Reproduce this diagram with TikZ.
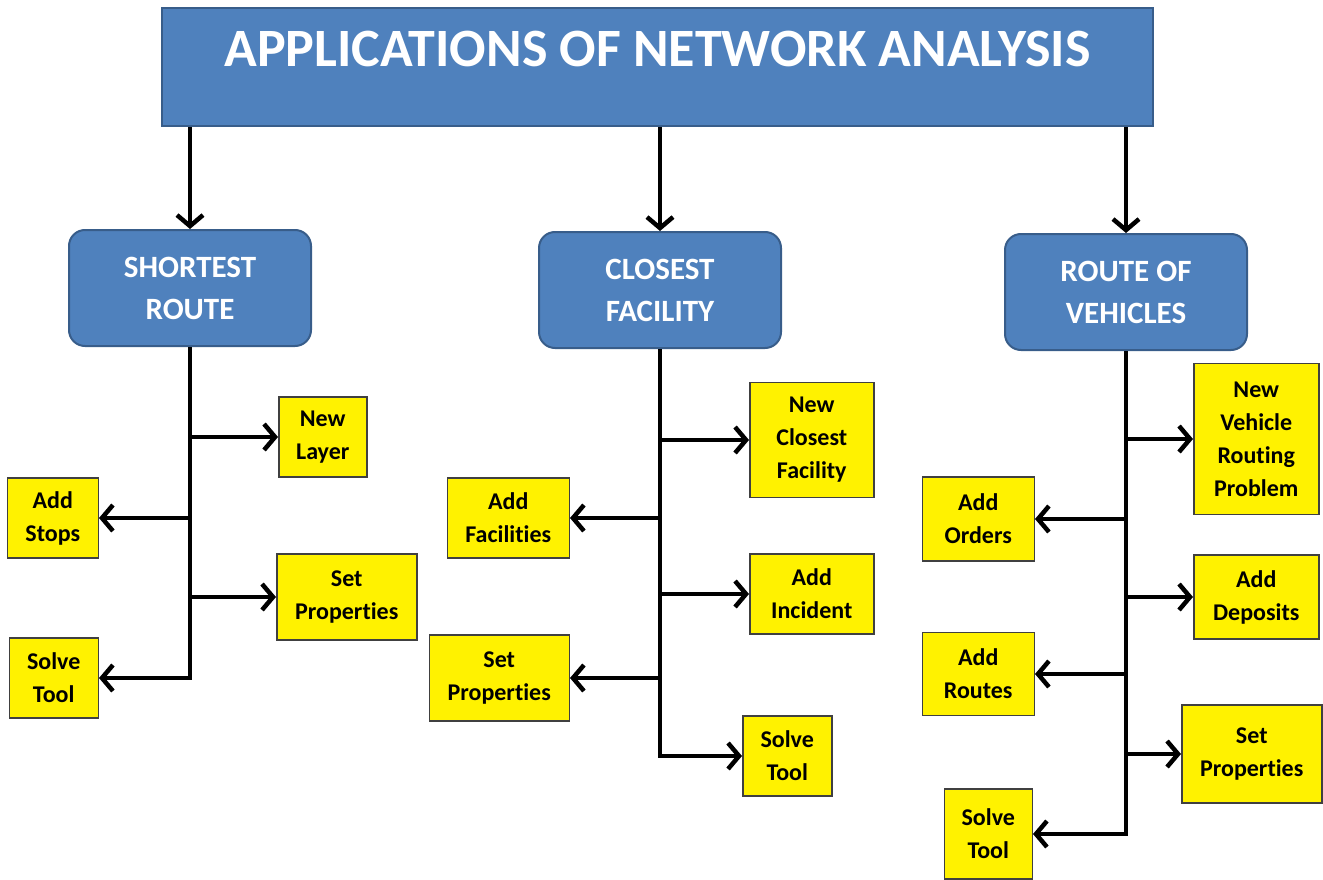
\documentclass[tikz,border=0pt]{standalone}
\usepackage{fontspec}
\setmainfont[Ligatures=NoCommon]{Carlito}
\usepackage{tikz}
\usetikzlibrary{arrows.meta,positioning}

\definecolor{hdrblue}{HTML}{4F81BD}
\definecolor{hdredge}{HTML}{385D8A}

\begin{document}
\begin{tikzpicture}[
  x=1pt, y=-1pt,
  titlebox/.style={rectangle, draw=hdredge, line width=2pt, fill=hdrblue, text=white,
                   minimum width=991pt, minimum height=118pt, text height=35pt, text depth=35pt,
                   font=\fontsize{54}{60}\selectfont\bfseries},
  appbox/.style={rectangle, draw=hdredge, line width=2pt, fill=hdrblue, rounded corners=16pt,
                 text=white, minimum width=242pt, minimum height=116pt, align=center,
                 font=\fontsize{31}{42}\selectfont\bfseries},
  stepbox/.style={rectangle, draw=black!75, line width=1.5pt, fill=yellow, align=center,
                  inner xsep=8pt, inner ysep=6pt, minimum height=80pt,
                  font=\fontsize{24}{33}\selectfont\bfseries},
  arr/.style={-{Straight Barb[length=11pt,width=26pt]}, line width=4.5pt}
]
\useasboundingbox (0,0) rectangle (1323,880);

% header and the three applications
\node[titlebox] (title) at (657.5,67) {APPLICATIONS OF NETWORK ANALYSIS};
\node[appbox] (sr) at (190,288) {SHORTEST\\ROUTE};
\node[appbox] (cf) at (660,290) {CLOSEST\\FACILITY};
\node[appbox] (rv) at (1126,292) {ROUTE OF\\VEHICLES};

% shortest route steps
\node[stepbox, anchor=west, minimum width=88pt] (layer) at (278,437) {New\\Layer};
\node[stepbox, anchor=east, minimum width=91pt] (stops) at (99,518) {Add\\Stops};
\node[stepbox, anchor=west, minimum width=140pt, minimum height=86pt] (propsA) at (276,597) {Set\\Properties};
\node[stepbox, anchor=east, minimum width=89pt] (solveA) at (99,678) {Solve\\Tool};

% closest facility steps
\node[stepbox, anchor=west, minimum width=124pt, minimum height=115pt] (newcf) at (749,440) {New\\Closest\\Facility};
\node[stepbox, anchor=east, minimum width=122pt] (facil) at (570,518) {Add\\Facilities};
\node[stepbox, anchor=west, minimum width=124pt] (incid) at (749,594) {Add\\Incident};
\node[stepbox, anchor=east, minimum width=140pt, minimum height=86pt] (propsB) at (570,678) {Set\\Properties};
\node[stepbox, anchor=west, minimum width=89pt] (solveB) at (742,756) {Solve\\Tool};

% vehicle routing steps
\node[stepbox, anchor=west, minimum width=125pt, minimum height=151pt] (vrp) at (1193,439) {New\\Vehicle\\Routing\\Problem};
\node[stepbox, anchor=east, minimum width=112pt, minimum height=84pt] (orders) at (1035,519) {Add\\Orders};
\node[stepbox, anchor=west, minimum width=125pt, minimum height=84pt] (depos) at (1193,597) {Add\\Deposits};
\node[stepbox, anchor=east, minimum width=112pt, minimum height=83pt] (routes) at (1035,674) {Add\\Routes};
\node[stepbox, anchor=west, minimum width=140pt, minimum height=98pt] (propsC) at (1181,754) {Set\\Properties};
\node[stepbox, anchor=east, minimum width=88pt, minimum height=90pt] (solveC) at (1033,834) {Solve\\Tool};

\draw[arr] (title.south -| sr.north) -- (sr.north);
\draw[arr] (title.south -| cf.north) -- (cf.north);
\draw[arr] (title.south -| rv.north) -- (rv.north);

% trunk ends in the last step, branches leave from it
\draw[arr] (sr.south) |- (solveA.east);
\draw[arr] (sr.south |- layer.west) -- (layer.west);
\draw[arr] (sr.south |- stops.east) -- (stops.east);
\draw[arr] (sr.south |- propsA.west) -- (propsA.west);

\draw[arr] (cf.south) |- (solveB.west);
\draw[arr] (cf.south |- newcf.west) -- (newcf.west);
\draw[arr] (cf.south |- facil.east) -- (facil.east);
\draw[arr] (cf.south |- incid.west) -- (incid.west);
\draw[arr] (cf.south |- propsB.east) -- (propsB.east);

\draw[arr] (rv.south) |- (solveC.east);
\draw[arr] (rv.south |- vrp.west) -- (vrp.west);
\draw[arr] (rv.south |- orders.east) -- (orders.east);
\draw[arr] (rv.south |- depos.west) -- (depos.west);
\draw[arr] (rv.south |- routes.east) -- (routes.east);
\draw[arr] (rv.south |- propsC.west) -- (propsC.west);
\end{tikzpicture}
\end{document}
